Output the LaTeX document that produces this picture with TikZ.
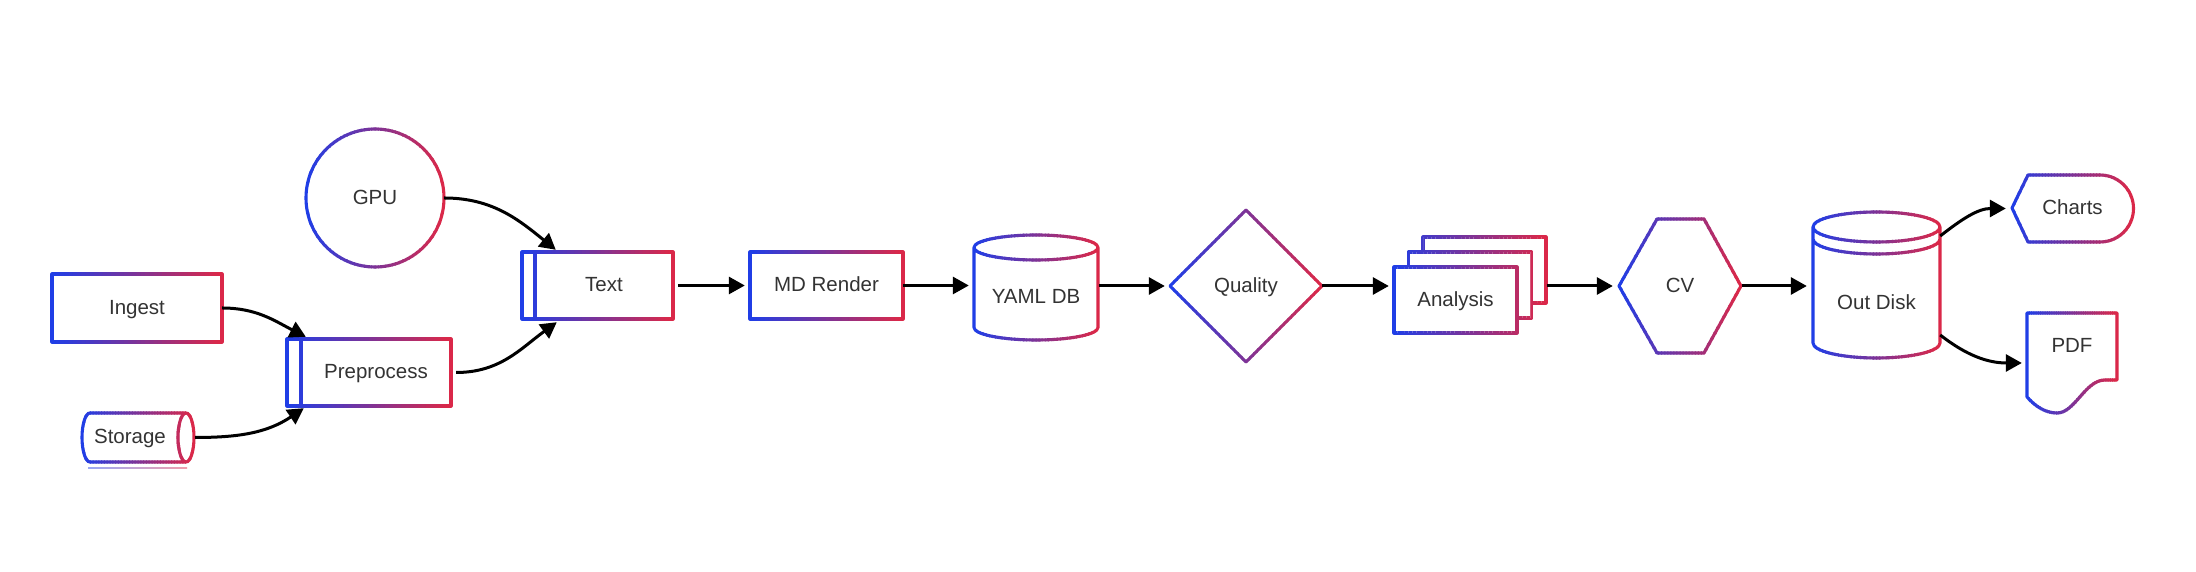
\documentclass[tikz,border=0pt]{standalone}
\usepackage{fontspec}
\setmainfont{Liberation Sans}
\usetikzlibrary{arrows.meta,shapes.geometric,backgrounds}
\definecolor{gblue}{RGB}{30,62,232}
\definecolor{gred}{RGB}{222,40,70}
\definecolor{txtgray}{RGB}{51,51,51}
\tikzstyle{lbl}=[font=\fontsize{20.5pt}{24pt}\selectfont,text=txtgray,inner sep=0pt,text height=16pt,text depth=3pt]
\tikzstyle{outline}=[line width=3.1pt,line join=round]
\tikzstyle{link}=[line width=3pt,-{Triangle[length=16pt,width=17pt]}]

% stroke a path with a blue->red gradient, left to right, in thin clipped strips
\newcommand{\gradpath}[4][]{%
  \foreach \k in {0,...,39}{%
    \pgfmathsetmacro{\gxa}{\k==0 ? #2-20 : #2+(#3-#2)*\k/40-0.5}%
    \pgfmathsetmacro{\gxb}{\k==39 ? #3+20 : #2+(#3-#2)*(\k+1)/40+0.5}%
    \pgfmathtruncatemacro{\gmix}{(\k+0.5)*2.5}%
    \begin{scope}
      \clip (\gxa,0) rectangle (\gxb,572);
      \draw[outline,draw=gred!\gmix!gblue,#1] #4;
    \end{scope}
  }%
}

\begin{document}
\begin{tikzpicture}[x=1pt,y=1pt]
    \useasboundingbox (0,0) rectangle (2196,572);
    \node[lbl,circle,minimum size=138pt] (gpu) at (375,374) {GPU};
    \node[lbl,minimum width=170pt,minimum height=68pt] (ingest) at (137,264) {Ingest};
    \node[lbl,minimum width=150pt,minimum height=67pt] (pre) at (376,199.5) {Preprocess};
    \node[lbl,minimum width=96pt,minimum height=49pt] (storage) at (130,134.5) {Storage};
    \node[lbl,minimum width=138pt,minimum height=67pt] (txt) at (604,286.5) {Text};
    \node[lbl,minimum width=153pt,minimum height=67pt] (mdr) at (826.5,286.5) {MD Render};
    \node[lbl,minimum width=124pt,minimum height=86pt] (yaml) at (1036,275) {YAML DB};
    \node[lbl,diamond,aspect=1,minimum size=152pt] (quality) at (1246,286) {Quality};
    \node[lbl,minimum width=123pt,minimum height=66pt] (analysis) at (1455.5,272) {Analysis};
    \coordinate (stackR) at ([xshift=29pt]analysis.east);
    \node[lbl,minimum width=122pt,minimum height=134pt] (cv) at (1680,286) {CV};
    \node[lbl,minimum width=127pt,minimum height=110pt] (outdisk) at (1876.5,269) {Out Disk};
    \node[lbl,minimum width=121pt,minimum height=67pt] (charts) at (2072.5,363.5) {Charts};
    \node[lbl,minimum width=90pt,minimum height=66pt] (pdf) at (2072,226) {PDF};

    \begin{pgfonlayer}{background}
    \fill[white] (0,0) rectangle (2196,572);
    \gradpath{306}{444}{(375,374) circle[radius=69]}
    \gradpath{52}{222}{(52,230) rectangle (222,298)}
    \gradpath{287}{451}{(287,166) rectangle (451,233) (301,166) -- (301,233)}
    \gradpath{82}{194}{(186,159) -- (90,159) arc[start angle=90,end angle=270,x radius=8,y radius=24.5] -- (186,110)
        (186,134.5) ellipse[x radius=8,y radius=24.5]}
    \shade[left color=gblue!45,right color=gred!45] (88,103.2) rectangle (187,104.8);
    \gradpath{522}{673}{(522,253) rectangle (673,320) (535,253) -- (535,320)}
    \gradpath{750}{903}{(750,253) rectangle (903,320)}
    \gradpath{974}{1098}{(1036,324.5) ellipse[x radius=62,y radius=12.5]
        (974,324.5) -- (974,244.5) arc[start angle=180,end angle=360,x radius=62,y radius=12.5] -- (1098,324.5)}
    \gradpath{1170}{1322}{(1170,286) -- (1246,362) -- (1322,286) -- (1246,210) -- cycle}
    % stacked boxes, back to front
    \gradpath[fill=white]{1394}{1546}{(1423,269) rectangle (1546,335)}
    \gradpath[fill=white]{1394}{1546}{(1408.5,254) rectangle (1531.5,320)}
    \gradpath[fill=white]{1394}{1546}{(1394,239) rectangle (1517,305)}
    \gradpath{1619}{1741}{(1619,286) -- (1657,353) -- (1704,353) -- (1741,286) -- (1704,219) -- (1657,219) -- cycle}
    \gradpath{1813}{1940}{(1876.5,345) ellipse[x radius=63.5,y radius=15]
        (1813,333) arc[start angle=180,end angle=360,x radius=63.5,y radius=15]
        (1813,345) -- (1813,229) arc[start angle=180,end angle=360,x radius=63.5,y radius=15] -- (1940,345)}
    \gradpath{2012}{2133}{(2012,364) -- (2028,397) -- (2100,397) arc[start angle=90,end angle=-90,radius=33.5] -- (2028,330) -- cycle}
    \gradpath{2027}{2117}{(2027,259) -- (2117,259) -- (2117,192) -- (2105,192)
        .. controls (2085,192) and (2075,159) .. (2057,159) .. controls (2045,159) and (2035,166) .. (2027,175) -- cycle}
    \end{pgfonlayer}

    \draw[link] (gpu.east) to[out=0,in=141] ([xshift=21pt,yshift=2pt]txt.north west);
    \draw[link] (ingest.east) to[out=0,in=153] ([xshift=5pt,yshift=2pt]pre.north west);
    \draw[link] ([xshift=17pt]storage.east) to[out=0,in=214] ([xshift=3pt,yshift=-2pt]pre.south west);
    \draw[link] ([xshift=5pt]pre.east) to[out=0,in=216] ([xshift=22pt,yshift=-3pt]txt.south west);
    \draw[link,shorten <=5pt,shorten >=5pt] (txt.east) -- (mdr.west);
    \draw[link,shorten >=5pt] (mdr.east) -- (mdr.east -| yaml.west);
    \draw[link,shorten <=1pt,shorten >=5pt] (yaml.east |- quality.west) -- (quality.west);
    \draw[link,shorten >=5pt] (quality.east) -- (analysis.west |- quality.east);
    \draw[link,shorten <=1pt,shorten >=6pt] (stackR |- cv.west) -- (cv.west);
    \draw[link,shorten <=1pt,shorten >=6pt] (cv.east) -- (outdisk.west |- cv.east);
    \draw[link] ([yshift=67pt]outdisk.east) to[out=38,in=180] ([xshift=-6pt]charts.west);
    \draw[link] ([yshift=-32pt]outdisk.east) to[out=-38,in=180] ([xshift=-5pt,yshift=-17pt]pdf.west);
\end{tikzpicture}
\end{document}
